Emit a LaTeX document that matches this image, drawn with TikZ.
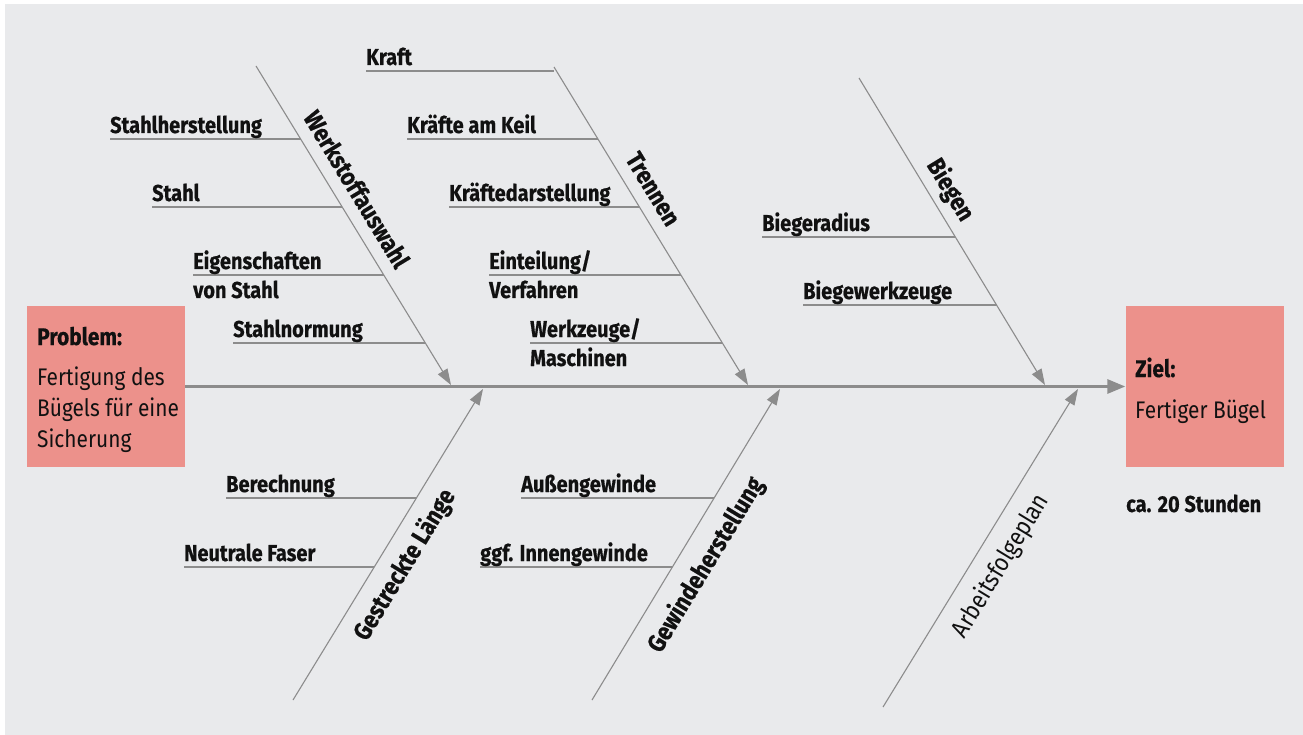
\documentclass[tikz,border=0pt]{standalone}
\usepackage{graphicx}
\usepackage{fontspec}
\setmainfont{Fira Sans}[BoldFeatures={FakeBold=0.6}]
\usetikzlibrary{arrows.meta}
\definecolor{bg}{HTML}{E9EAEC}
\definecolor{boxc}{HTML}{EC918B}
\definecolor{ln}{HTML}{8C8C8C}
\definecolor{tx}{HTML}{111111}
\newcommand\cd[1]{\scalebox{0.87}[1]{#1}}
\begin{document}
\begin{tikzpicture}[x=1pt,y=-1pt,
  spine/.style={draw=ln, line width=3pt, -{Triangle[length=18pt,width=14pt]}},
  rib/.style={draw=ln, line width=1.1pt, -{Triangle[length=16pt,width=11pt]}},
  sub/.style={draw=ln, line width=1.6pt},
  lab/.style={inner sep=0pt, anchor=base west, text=tx, font=\fontsize{23}{26}\selectfont\bfseries},
  riblab/.style={inner sep=0pt, text=tx, font=\fontsize{25}{28}\selectfont\bfseries},
  ribreg/.style={inner sep=0pt, text=tx, font=\fontsize{25}{28}\selectfont},
  box/.style={fill=boxc, inner sep=0pt, minimum width=158pt, minimum height=161pt},
  boxtxt/.style={inner sep=0pt, anchor=base west, text=tx, font=\fontsize{24}{30}\selectfont}]
\useasboundingbox (0,0) rectangle (1303,735);
\fill[bg] (5,4) rectangle (1303,735);

% boxes
\node[box] (problem) at (106,386.5) {};
\node[box] (ziel) at (1204.5,386.5) {};
\node[boxtxt] (pt1) at (37,345) {\cd{\bfseries Problem:}};
\node[boxtxt] (pt2) at (37,385) {\cd{Fertigung des}};
\node[boxtxt] (pt3) at (37,416) {\cd{Bügels für eine}};
\node[boxtxt] (pt4) at (37,447) {\cd{Sicherung}};
\node[boxtxt] (zt1) at (1135,377) {\cd{\bfseries Ziel:}};
\node[boxtxt] (zt2) at (1135,418) {\cd{Fertiger Bügel}};
\node[lab] (dauer) at (1126,512) {\cd{ca. 20 Stunden}};

% spine
\draw[spine] (problem.east) -- (ziel.west);

% rib coordinates
\coordinate (w0) at (256,66);   \coordinate (w1) at (451,385);
\coordinate (t0) at (554,67);   \coordinate (t1) at (748,385);
\coordinate (b0) at (859,78);   \coordinate (b1) at (1045,385);
\coordinate (g0) at (293,700);  \coordinate (g1) at (483,389);
\coordinate (h0) at (592,700);  \coordinate (h1) at (780,389);
\coordinate (a0) at (883,707);  \coordinate (a1) at (1078,389);

\draw[rib] (w0) -- (w1);
\draw[rib] (t0) -- (t1);
\draw[rib] (b0) -- (b1);
\draw[rib] (g0) -- (g1);
\draw[rib] (h0) -- (h1);
\draw[rib] (a0) -- (a1);

% rib labels
\node[riblab, rotate=-58.7] (lw) at (357,189) {\cd{Werkstoffauswahl}};
\node[riblab, rotate=-58.7] (lt) at (653,189) {\cd{Trennen}};
\node[riblab, rotate=-58.7] (lb) at (950,190) {\cd{Biegen}};
\node[riblab, rotate=58.7] (lg) at (405,565) {\cd{Gestreckte Länge}};
\node[riblab, rotate=58.7] (lh) at (706,565) {\cd{Gewindeherstellung}};
\node[ribreg, rotate=58.7] (la) at (1001,566) {\cd{Arbeitsfolgeplan}};

% sub-causes: start and end points
\coordinate (s1) at (110,139);  \coordinate (s1e) at (300.6,139);
\coordinate (s2) at (152,207);  \coordinate (s2e) at (342.2,207);
\coordinate (s3) at (193,275);  \coordinate (s3e) at (383.8,275);
\coordinate (s4) at (233,343);  \coordinate (s4e) at (425.3,343);
\coordinate (k1) at (366,71);   \coordinate (k1e) at (554,71);
\coordinate (k2) at (407,139);  \coordinate (k2e) at (598,139);
\coordinate (k3) at (449,207);  \coordinate (k3e) at (639.4,207);
\coordinate (k4) at (489,275);  \coordinate (k4e) at (681,275);
\coordinate (k5) at (530,343);  \coordinate (k5e) at (722.4,343);
\coordinate (r1) at (762,237);  \coordinate (r1e) at (955.3,237);
\coordinate (r2) at (803,305);  \coordinate (r2e) at (996.5,305);
\coordinate (q1) at (226,498);  \coordinate (q1e) at (416.4,498);
\coordinate (q2) at (184,567);  \coordinate (q2e) at (374.3,567);
\coordinate (m1) at (521,498);  \coordinate (m1e) at (714,498);
\coordinate (m2) at (480,567);  \coordinate (m2e) at (672.4,567);

\foreach \p in {s1,s2,s3,s4,k1,k2,k3,k4,k5,r1,r2,q1,q2,m1,m2}
  \draw[sub] (\p) -- (\p e);

% sub-cause labels
\node[lab] (ls1) at ([yshift=6pt]s1) {\cd{Stahlherstellung}};
\node[lab] (ls2) at ([yshift=6pt]s2) {\cd{Stahl}};
\node[lab] (ls3) at ([yshift=6pt]s3) {\cd{Eigenschaften}};
\node[lab] (ls3b) at ([yshift=-23pt]s3) {\cd{von Stahl}};
\node[lab] (ls4) at ([yshift=6pt]s4) {\cd{Stahlnormung}};
\node[lab] (lk1) at ([yshift=6pt]k1) {\cd{Kraft}};
\node[lab] (lk2) at ([yshift=6pt]k2) {\cd{Kräfte am Keil}};
\node[lab] (lk3) at ([yshift=6pt]k3) {\cd{Kräftedarstellung}};
\node[lab] (lk4) at ([yshift=6pt]k4) {\cd{Einteilung/}};
\node[lab] (lk4b) at ([yshift=-23pt]k4) {\cd{Verfahren}};
\node[lab] (lk5) at ([yshift=6pt]k5) {\cd{Werkzeuge/}};
\node[lab] (lk5b) at ([yshift=-23pt]k5) {\cd{Maschinen}};
\node[lab] (lr1) at ([yshift=6pt]r1) {\cd{Biegeradius}};
\node[lab] (lr2) at ([yshift=6pt]r2) {\cd{Biegewerkzeuge}};
\node[lab] (lq1) at ([yshift=6pt]q1) {\cd{Berechnung}};
\node[lab] (lq2) at ([yshift=6pt]q2) {\cd{Neutrale Faser}};
\node[lab] (lm1) at ([yshift=6pt]m1) {\cd{Außengewinde}};
\node[lab] (lm2) at ([yshift=6pt]m2) {\cd{ggf. Innengewinde}};
\end{tikzpicture}
\end{document}
